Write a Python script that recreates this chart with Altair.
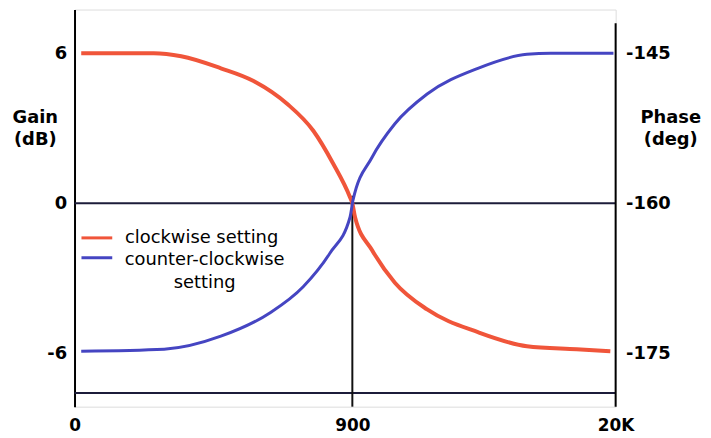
import altair as alt
import pandas as pd

# ---- data ----
freq_cw = [3, 56, 91, 166, 260, 403, 558, 712, 875, 900, 930, 1140, 1500, 2200, 4000, 7100, 12700, 18800]
gain_cw = [6.0, 6.0, 5.88, 5.4, 4.89, 3.97, 2.9, 1.59, 0.24, 0.0, -0.56, -1.87, -3.18, -4.25, -5.16, -5.72, -5.84, -5.92]
freq_ccw = [3, 68, 166, 325, 492, 686, 875, 907, 1140, 1500, 2200, 4000, 7100, 9400, 19500]
gain_ccw = [-5.92, -5.84, -5.32, -4.37, -3.34, -1.99, -0.56, 0.12, 1.83, 3.18, 4.37, 5.4, 5.96, 6.0, 6.0]
series_names = ["clockwise setting", "counter-clockwise setting"]
series_colors = ["#f0553a", "#4545c2"]
series_widths = [4, 3]

x_ticks = [0, 900, 20000]
gain_ticks = [-6, 0, 6]
phase_ticks = [-175, -160, -145]

gain_domain = [-8.14, 7.75]
phase_domain = [-180.35, -140.63]

# reference lines (gain units)
hlines = pd.DataFrame({"freq": [0, 0], "freq2": [20000, 20000], "gain": [0, -7.59]})
vline = pd.DataFrame({"freq": [900], "gain": [0.3], "gain2": [-8.14]})
right_line = pd.DataFrame({"freq": [20000], "phase": [-180.35], "phase2": [-142.0]})

curves = pd.concat([
    pd.DataFrame({"freq": freq_cw, "gain": gain_cw, "setting": series_names[0]}),
    pd.DataFrame({"freq": freq_ccw, "gain": gain_ccw, "setting": series_names[1]}),
])

FONT = "DejaVu Sans"
MINUS_FIX = "replace(datum.label, '\u2212', '-')"

X = alt.X(
    "freq:Q",
    scale=alt.Scale(type="symlog", constant=37, domain=[0, 20000], nice=False),
    axis=alt.Axis(values=x_ticks, title=None, domain=False, ticks=False, grid=False,
                  labelExpr="datum.value >= 1000 ? format(datum.value/1000, 'd') + 'K' : format(datum.value, 'd')",
                  labelFont=FONT, labelFontSize=17, labelFontWeight="bold", labelColor="black",
                  labelPadding=11, labelFlush=False, labelOverlap=False),
)
Y = alt.Y(
    "gain:Q",
    scale=alt.Scale(domain=gain_domain, nice=False, zero=False),
    axis=alt.Axis(values=gain_ticks, title=["Gain", "(dB)"], titleAngle=0, titleX=-40, titleY=100,
                  titleAlign="center", titleBaseline="top", titleLineHeight=22,
                  titleFont=FONT, titleFontSize=18, titleFontWeight="bold", titleColor="black",
                  domain=True, domainColor="black", domainWidth=2, ticks=False, grid=False,
                  labelExpr=MINUS_FIX,
                  labelFont=FONT, labelFontSize=18, labelFontWeight="bold", labelColor="black",
                  labelPadding=8),
)

h_layer = alt.Chart(hlines).mark_rule(color="#1c1c3a", strokeWidth=2).encode(
    x=X, x2="freq2:Q", y=Y
)
v_layer = alt.Chart(vline).mark_rule(color="#111111", strokeWidth=2).encode(
    x=X, y=Y, y2="gain2:Q"
)
curve_layer = alt.Chart(curves).mark_line(interpolate="monotone").encode(
    x=X, y=Y,
    color=alt.Color("setting:N",
                    scale=alt.Scale(domain=series_names, range=series_colors),
                    legend=None),
    strokeWidth=alt.StrokeWidth("setting:N",
                                scale=alt.Scale(domain=series_names, range=series_widths),
                                legend=None),
    order=alt.Order("freq:Q"),
)

# hand-placed legend (as in the reference)
leg_base = alt.Chart(pd.DataFrame({"k": [0]}))
leg_sw1 = leg_base.mark_rule(color=series_colors[0], strokeWidth=3).encode(
    x=alt.value(7), x2=alt.value(38), y=alt.value(230))
leg_sw2 = leg_base.mark_rule(color=series_colors[1], strokeWidth=3).encode(
    x=alt.value(7), x2=alt.value(38), y=alt.value(250))
leg_t1 = leg_base.mark_text(font=FONT, fontSize=18, color="black", align="center",
                            baseline="alphabetic").encode(
    x=alt.value(128), y=alt.value(235), text=alt.value(series_names[0]))
leg_t2 = leg_base.mark_text(font=FONT, fontSize=18, color="black", align="center",
                            baseline="alphabetic", lineHeight=23).encode(
    x=alt.value(131), y=alt.value(257), text=alt.value(["counter-clockwise", "setting"]))

left = alt.layer(h_layer, v_layer, curve_layer, leg_sw1, leg_sw2, leg_t1, leg_t2)

right = alt.Chart(right_line).mark_rule(color="black", strokeWidth=2).encode(
    x=X,
    y=alt.Y("phase:Q",
            scale=alt.Scale(domain=phase_domain, nice=False, zero=False),
            axis=alt.Axis(values=phase_ticks, orient="right", title=["Phase", "(deg)"],
                          titleAngle=0, titleX=55, titleY=100, titleAlign="center",
                          titleBaseline="top", titleLineHeight=22,
                          titleFont=FONT, titleFontSize=18, titleFontWeight="bold", titleColor="black",
                          domain=False, ticks=False, grid=False,
                          labelExpr=MINUS_FIX,
                          labelFont=FONT, labelFontSize=18, labelFontWeight="bold", labelColor="black",
                          labelPadding=10)),
    y2="phase2:Q",
)

chart = alt.layer(left, right).resolve_scale(y="independent").properties(
    width=545, height=400,
    padding={"left": 67, "top": 0, "right": 88, "bottom": 30},
    autosize=alt.AutoSizeParams(type="none"),
).configure_view(stroke=None).configure(background="white")

chart.save("out.html", embed_options={"renderer": "svg", "actions": False})
